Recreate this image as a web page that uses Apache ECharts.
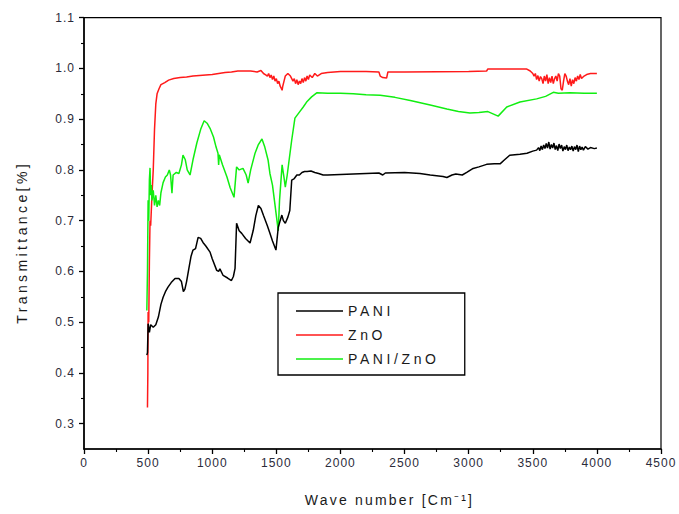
<!DOCTYPE html>
<html>
<head>
<meta charset="utf-8">
<script src="https://cdn.jsdelivr.net/npm/echarts@6/dist/echarts.min.js"></script>
<style>html,body{margin:0;padding:0;background:#fff}#c{width:679px;height:514px}</style>
</head>
<body>
<div id="c"></div>
<script>
var seriesNames = ['PANI', 'ZnO', 'PANI/ZnO'];
var xTicks = [0, 500, 1000, 1500, 2000, 2500, 3000, 3500, 4000, 4500];
var yTicks = [0.3, 0.4, 0.5, 0.6, 0.7, 0.8, 0.9, 1.0, 1.1];
var yMinorTicks = [0.35, 0.45, 0.55, 0.65, 0.75, 0.85, 0.95, 1.05];
var xTitle = 'Wave number [Cm\u207B\u00B9]';
var yTitle = 'Transmittance[%]';

var paniX = [490,495,500,510,520,540,560,580,600,617,635,655,680,710,740,760,775,787,800,820,835,850,870,890,910,928,950,983,1000,1035,1050,1060,1085,1120,1150,1165,1178,1190,1210,1230,1260,1295,1320,1340,1360,1380,1400,1430,1450,1470,1497,1515,1530,1543,1555,1570,1590,1605,1620,1640,1660,1680,1700,1720,1740,1770,1800,1830,1865,1900,2000,2100,2200,2300,2330,2350,2500,2620,2700,2800,2830,2870,2900,2950,2985,3035,3080,3140,3200,3245,3280,3320,3400,3455,3500,3530,3545,3555,3565,3575,3585,3595,3605,3615,3625,3635,3645,3655,3665,3675,3685,3695,3705,3715,3725,3735,3745,3755,3765,3775,3785,3795,3805,3815,3825,3835,3845,3855,3865,3875,3885,3895,3910,3930,3950,3980,4000];
var paniY = [0.435,0.44,0.497,0.48,0.495,0.49,0.495,0.51,0.535,0.549,0.56,0.569,0.578,0.586,0.586,0.58,0.56,0.565,0.58,0.609,0.63,0.642,0.645,0.667,0.665,0.657,0.65,0.638,0.625,0.602,0.6,0.605,0.592,0.587,0.582,0.59,0.606,0.695,0.68,0.675,0.665,0.656,0.681,0.71,0.73,0.724,0.71,0.69,0.675,0.66,0.642,0.687,0.7,0.711,0.7,0.695,0.707,0.72,0.78,0.783,0.79,0.79,0.795,0.797,0.797,0.798,0.795,0.793,0.79,0.79,0.791,0.792,0.793,0.794,0.79,0.794,0.795,0.793,0.79,0.787,0.785,0.79,0.792,0.79,0.795,0.803,0.806,0.811,0.812,0.812,0.82,0.829,0.831,0.833,0.837,0.839,0.844,0.838,0.847,0.84,0.849,0.842,0.852,0.843,0.855,0.841,0.85,0.843,0.853,0.84,0.848,0.838,0.851,0.842,0.849,0.837,0.846,0.84,0.849,0.838,0.845,0.84,0.847,0.837,0.846,0.84,0.849,0.836,0.847,0.84,0.845,0.839,0.846,0.841,0.844,0.842,0.843,0.843,0.843];

var znoX = [495,498,500,505,510,515,520,530,540,550,560,570,585,600,630,660,700,750,800,850,900,1000,1100,1150,1200,1300,1350,1380,1400,1420,1430,1440,1450,1460,1470,1480,1490,1500,1510,1520,1530,1540,1545,1550,1560,1570,1590,1610,1630,1640,1650,1660,1670,1680,1690,1700,1710,1720,1730,1740,1750,1760,1780,1800,1820,1850,1900,1950,2000,2100,2200,2300,2310,2330,2360,2370,2500,3000,3140,3150,3450,3480,3500,3510,3520,3530,3540,3550,3560,3570,3580,3590,3600,3610,3620,3630,3640,3650,3660,3670,3680,3690,3700,3710,3720,3730,3740,3750,3760,3770,3780,3790,3800,3810,3820,3830,3840,3850,3860,3870,3880,3900,3920,3950,4000];
var znoY = [0.332,0.4,0.52,0.5,0.62,0.7,0.69,0.75,0.8,0.88,0.93,0.95,0.96,0.968,0.972,0.977,0.98,0.982,0.983,0.985,0.986,0.988,0.992,0.993,0.995,0.995,0.993,0.996,0.99,0.987,0.985,0.99,0.982,0.987,0.978,0.985,0.975,0.98,0.97,0.975,0.965,0.96,0.957,0.965,0.975,0.985,0.99,0.985,0.975,0.98,0.97,0.978,0.968,0.975,0.97,0.98,0.972,0.982,0.975,0.985,0.978,0.987,0.982,0.99,0.985,0.99,0.992,0.993,0.994,0.994,0.994,0.993,0.985,0.982,0.981,0.993,0.993,0.994,0.995,0.999,0.999,0.995,0.99,0.985,0.99,0.978,0.986,0.975,0.984,0.98,0.97,0.985,0.975,0.988,0.97,0.982,0.972,0.985,0.97,0.98,0.985,0.975,0.99,0.985,0.96,0.957,0.975,0.99,0.985,0.975,0.968,0.98,0.965,0.978,0.97,0.982,0.975,0.985,0.978,0.988,0.98,0.985,0.988,0.99,0.99];

var compX = [490,495,500,505,510,515,520,525,530,540,550,560,570,580,590,600,617,635,650,665,675,686,695,720,740,760,772,790,805,827,850,880,910,937,960,983,1010,1030,1045,1050,1055,1080,1115,1140,1170,1190,1210,1240,1265,1280,1300,1334,1360,1388,1410,1436,1450,1470,1490,1505,1515,1525,1545,1560,1570,1585,1600,1620,1645,1680,1710,1740,1775,1815,1900,2000,2100,2200,2310,2425,2545,2700,2830,2920,3010,3080,3150,3230,3297,3400,3530,3600,3660,3700,3790,3900,4000];
var compY = [0.523,0.6,0.74,0.7,0.78,0.804,0.75,0.77,0.74,0.76,0.73,0.75,0.727,0.74,0.73,0.755,0.775,0.786,0.79,0.8,0.79,0.754,0.79,0.795,0.793,0.81,0.829,0.82,0.8,0.79,0.82,0.853,0.88,0.897,0.892,0.882,0.865,0.845,0.833,0.81,0.83,0.81,0.786,0.765,0.746,0.806,0.8,0.803,0.79,0.774,0.8,0.833,0.85,0.861,0.845,0.819,0.793,0.77,0.73,0.7,0.68,0.74,0.81,0.785,0.766,0.79,0.82,0.859,0.902,0.914,0.924,0.935,0.944,0.952,0.951,0.951,0.95,0.948,0.947,0.943,0.937,0.928,0.92,0.915,0.912,0.913,0.915,0.906,0.924,0.934,0.94,0.945,0.953,0.951,0.952,0.951,0.951];

function zip(xs, ys) { return xs.map(function (x, i) { return [x, ys[i]]; }); }

var FONT = 'Liberation Sans, Arial, sans-serif';
var dom = document.getElementById('c');
var chart = echarts.init(dom, null, { renderer: 'svg' });

function lineSeries(name, xs, ys, color) {
  return {
    name: name, type: 'line', data: zip(xs, ys), showSymbol: false, symbol: 'none',
    lineStyle: { color: color, width: 1.5 }, itemStyle: { color: color },
    animation: false
  };
}

chart.setOption({
  backgroundColor: '#fff',
  animation: false,
  grid: { left: 84, right: 18, top: 17.7, bottom: 65, show: true, borderColor: '#000', borderWidth: 1.2, backgroundColor: 'transparent' },
  legend: {
    data: seriesNames,
    orient: 'vertical',
    left: 278, top: 293,
    icon: 'rect', itemWidth: 47, itemHeight: 1.5, itemGap: 10,
    padding: [11, 54, 9, 18],
    borderColor: '#000', borderWidth: 1.3,
    textStyle: { fontFamily: FONT, fontSize: 14, color: '#1a1a1a' }
  },
  xAxis: {
    type: 'value', min: 0, max: 4500, interval: 500,
    name: xTitle, nameLocation: 'middle', nameGap: 44,
    nameTextStyle: { fontFamily: FONT, fontSize: 14, color: '#1a1a1a', padding: [0, 0, 0, 34] },
    axisLine: { show: true, lineStyle: { color: '#000', width: 1.5 } },
    axisTick: { show: true, length: 5, lineStyle: { color: '#000', width: 1.3 } },
    minorTick: { show: true, splitNumber: 2, length: 3, lineStyle: { color: '#000', width: 1.1 } },
    axisLabel: { fontFamily: FONT, fontSize: 12, color: '#2b2b3a', margin: 8, customValues: xTicks,
      formatter: function (v) { return String(v); } },
    splitLine: { show: false }, minorSplitLine: { show: false }
  },
  yAxis: [{
    type: 'value', min: 0.25, max: 1.1,
    name: yTitle, nameLocation: 'middle', nameGap: 55,
    nameTextStyle: { fontFamily: FONT, fontSize: 14, color: '#1a1a1a', padding: [0, 18, 0, 0] },
    axisLine: { show: true, lineStyle: { color: '#000', width: 1.5 } },
    axisTick: { show: true, length: 5, customValues: yTicks, lineStyle: { color: '#000', width: 1.3 } },
    axisLabel: { fontFamily: FONT, fontSize: 12, color: '#2b2b3a', margin: 9, customValues: yTicks,
      formatter: function (v) { return v.toFixed(1); } },
    splitLine: { show: false }
  }, {
    type: 'value', min: 0.25, max: 1.1, position: 'left',
    axisLine: { show: false },
    axisTick: { show: true, length: 3, customValues: yMinorTicks, lineStyle: { color: '#000', width: 1.1 } },
    axisLabel: { show: false, customValues: yMinorTicks },
    splitLine: { show: false }
  }],
  series: [
    lineSeries('ZnO', znoX, znoY, '#ff1a1a'),
    lineSeries('PANI/ZnO', compX, compY, '#11ee11'),
    lineSeries('PANI', paniX, paniY, '#000000')
  ]
});

// Widen letter spacing of texts to mimic the reference rendering.
var texts = dom.querySelectorAll('text');
for (var i = 0; i < texts.length; i++) {
  var t = texts[i].textContent;
  var ls = 1;
  if (t === xTitle) ls = 2.2;
  else if (t === yTitle) ls = 3.4;
  else if (seriesNames.indexOf(t) >= 0) ls = 3.6;
  texts[i].setAttribute('letter-spacing', ls);
}
</script>
</body>
</html>
